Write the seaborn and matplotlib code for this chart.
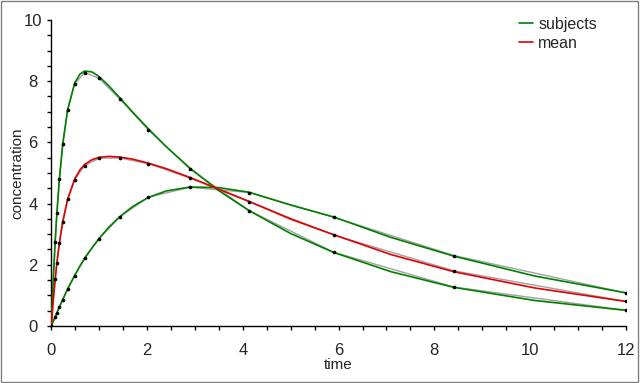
import numpy as np
import pandas as pd
import matplotlib
matplotlib.use("Agg")
import matplotlib.pyplot as plt
import seaborn as sns
from matplotlib.lines import Line2D
from matplotlib.ticker import MultipleLocator

# sampled observations (black dots, joined by thin grey lines)
sample_time = [0, 0.083, 0.118, 0.169, 0.241, 0.344, 0.49, 0.70, 1.0, 1.43,
               2.03, 2.90, 4.13, 5.90, 8.41, 12.0]
subject_fast = [0, 2.75, 3.69, 4.79, 5.96, 7.07, 7.91, 8.28, 8.09, 7.42,
                6.40, 5.13, 3.77, 2.41, 1.27, 0.51]
subject_slow = [0, 0.29, 0.43, 0.61, 0.86, 1.20, 1.64, 2.21, 2.85, 3.56,
                4.21, 4.53, 4.36, 3.55, 2.30, 1.08]
mean_obs = [0, 1.52, 2.06, 2.70, 3.41, 4.14, 4.78, 5.24, 5.48, 5.49,
            5.30, 4.83, 4.06, 2.97, 1.80, 0.80]

# smooth fitted curves
curve_time = [0, 0.04, 0.083, 0.12, 0.17, 0.24, 0.34, 0.49, 0.6, 0.7, 0.85,
              1.0, 1.2, 1.43, 1.7, 2.03, 2.4, 2.9, 3.5, 4.13, 5.0, 5.9,
              7.1, 8.41, 10.1, 12.0]
curve_fast = [0, 1.45, 2.76, 3.71, 4.78, 5.92, 7.04, 7.94, 8.23, 8.33, 8.30,
              8.15, 7.85, 7.46, 6.99, 6.44, 5.86, 5.15, 4.42, 3.77, 3.02, 2.40,
              1.77, 1.26, 0.83, 0.51]
curve_slow = [0, 0.14, 0.29, 0.43, 0.61, 0.86, 1.20, 1.65, 1.96, 2.22, 2.55,
              2.86, 3.22, 3.57, 3.90, 4.20, 4.41, 4.54, 4.52, 4.37, 3.95, 3.56,
              2.89, 2.28, 1.63, 1.08]
curve_mean = [0, 0.80, 1.52, 2.07, 2.70, 3.39, 4.12, 4.80, 5.10, 5.28, 5.43,
              5.51, 5.54, 5.52, 5.45, 5.32, 5.14, 4.85, 4.47, 4.07, 3.49, 2.98,
              2.33, 1.77, 1.24, 0.80]

obs = pd.DataFrame({'time': sample_time, 'fast': subject_fast,
                    'slow': subject_slow, 'mean': mean_obs})
fit = pd.DataFrame({'time': curve_time, 'fast': curve_fast,
                    'slow': curve_slow, 'mean': curve_mean})

sns.set_style('ticks')
plt.rcParams['font.family'] = ['Liberation Sans', 'DejaVu Sans']

fig = plt.figure(figsize=(6.4, 3.83), dpi=100)
ax = fig.add_axes([0.080, 0.149, 0.898, 0.799])

green = '#007f00'
red = '#e00000'

# grey straight segments between samples
for col in ['fast', 'slow', 'mean']:
    sns.lineplot(data=obs, x='time', y=col, ax=ax, color='#a0a0a0',
                 linewidth=1.0, sort=False, zorder=2)

# smooth curves
sns.lineplot(data=fit, x='time', y='fast', ax=ax, color=green, linewidth=1.2,
             sort=False, zorder=3)
sns.lineplot(data=fit, x='time', y='slow', ax=ax, color=green, linewidth=1.2,
             sort=False, zorder=3)
sns.lineplot(data=fit, x='time', y='mean', ax=ax, color=red, linewidth=1.2,
             sort=False, zorder=3)

# sample dots
for col in ['fast', 'slow', 'mean']:
    sns.scatterplot(data=obs, x='time', y=col, ax=ax, color='black', s=7,
                    linewidth=0, zorder=4)

ax.set_xlim(0, 12)
ax.set_ylim(0, 10)
ax.xaxis.set_major_locator(MultipleLocator(2))
ax.xaxis.set_minor_locator(MultipleLocator(0.5))
ax.yaxis.set_major_locator(MultipleLocator(2))
ax.yaxis.set_minor_locator(MultipleLocator(0.5))
ax.tick_params(which='both', direction='out', length=3, width=1, color='black')
ax.tick_params(axis='x', which='major', labelsize=12, pad=9)
ax.tick_params(axis='y', which='major', labelsize=12, pad=10)
for lab in ax.get_yticklabels():
    lab.set_horizontalalignment('center')
for side in ['left', 'bottom']:
    ax.spines[side].set_color('black')
    ax.spines[side].set_linewidth(1.0)
sns.despine(ax=ax)

ax.set_xlabel('time', fontsize=11, labelpad=0.5)
ax.set_ylabel('concentration', fontsize=11, labelpad=0)

handles = [Line2D([0], [0], color=green, linewidth=1.2),
           Line2D([0], [0], color=red, linewidth=1.2)]
fig.legend(handles, ['subjects', 'mean'], loc='upper right', frameon=False,
           fontsize=11.5, handlelength=0.9, handletextpad=0.3, labelspacing=0.25,
           borderpad=0, borderaxespad=0,
           bbox_to_anchor=(597 / 640, 1 - 17 / 383))

# grey border round the whole picture
fig.patches.append(plt.Rectangle((0.002, 0.003), 0.995, 0.994,
                                 transform=fig.transFigure, fill=False,
                                 edgecolor='#808080', linewidth=1.0))

fig.savefig('out.png', dpi=100)
